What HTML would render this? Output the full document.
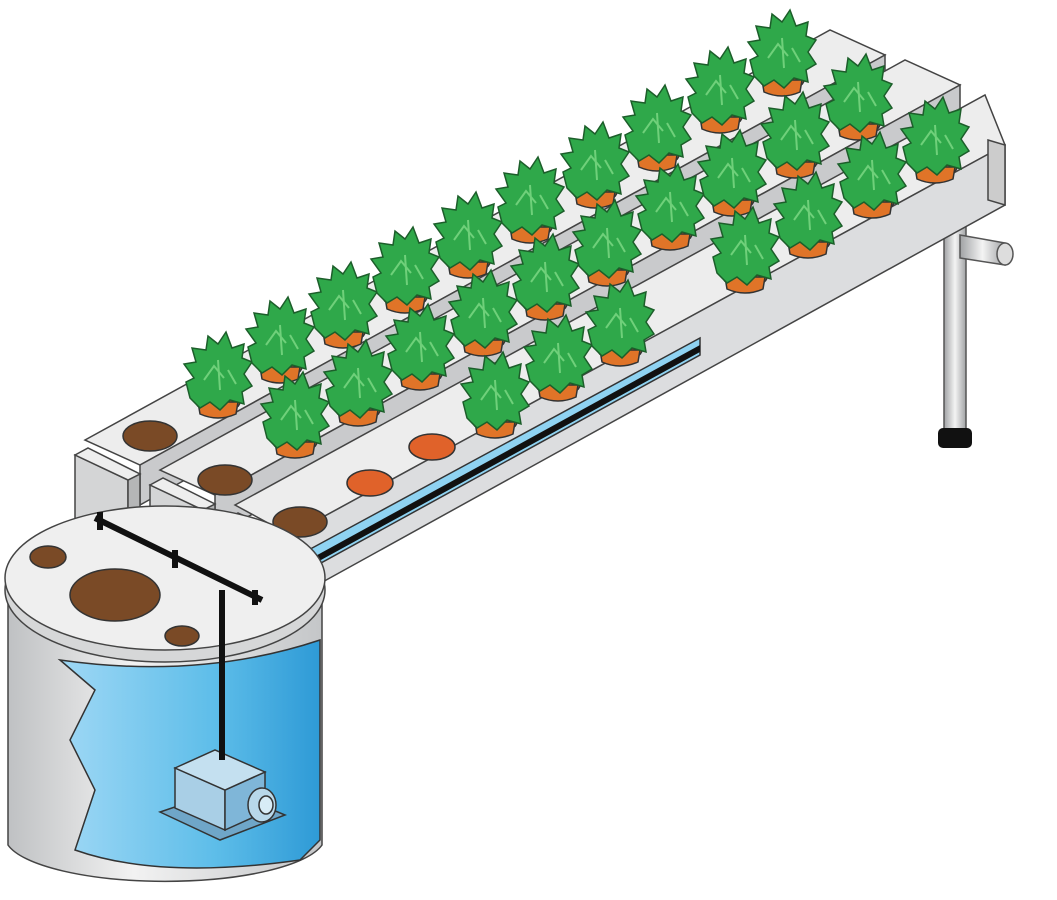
<!DOCTYPE html>
<html><head><meta charset="utf-8"><style>html,body{margin:0;padding:0;background:#fff}svg{display:block}</style></head>
<body>
<svg width="1057" height="900" viewBox="0 0 1057 900" xmlns="http://www.w3.org/2000/svg">
<defs>
<linearGradient id="cyl" x1="0" x2="1"><stop offset="0" stop-color="#bfc1c3"/><stop offset="0.4" stop-color="#f2f2f2"/><stop offset="1" stop-color="#c4c6c8"/></linearGradient>
<linearGradient id="water" x1="0" x2="1"><stop offset="0" stop-color="#9fd8f5"/><stop offset="0.6" stop-color="#5dbde9"/><stop offset="1" stop-color="#2e9ad6"/></linearGradient>
<linearGradient id="leg" x1="0" x2="1"><stop offset="0" stop-color="#a0a2a4"/><stop offset="0.5" stop-color="#f4f4f4"/><stop offset="1" stop-color="#a0a2a4"/></linearGradient>
<g id="plant">
<ellipse cx="0" cy="2" rx="22" ry="10" fill="#d9651f" stroke="#333" stroke-width="1.5"/>
<path d="M-20,2 L-18,14 Q0,22 18,14 L20,2 Z" fill="#e07428" stroke="#333" stroke-width="1.5"/>
<path d="M-28,-2 L-32,-18 L-24,-22 L-34,-36 L-22,-38 L-26,-52 L-12,-50 L-10,-64 L0,-56 L8,-68 L14,-52 L26,-56 L24,-42 L34,-38 L26,-26 L34,-14 L24,-8 L26,4 L12,0 L2,10 L-8,2 L-18,8 Z" fill="#2fa84a" stroke="#1c5e2a" stroke-width="1.5"/>
<path d="M-14,-20 L-4,-34 L6,-22 M0,-40 L2,-10 M10,-30 L18,-16" stroke="#6fd07a" stroke-width="2" fill="none"/>
</g>
</defs>

<!-- rear leg (behind) -->
<rect x="944" y="195" width="22" height="240" fill="url(#leg)" stroke="#555" stroke-width="1.5"/>
<rect x="938" y="428" width="34" height="20" rx="5" fill="#111"/>
<path d="M960,235 L1005,243 L1005,265 L960,258 Z" fill="url(#leg)" stroke="#555" stroke-width="1.5"/>
<ellipse cx="1005" cy="254" rx="8" ry="11" fill="#ddd" stroke="#555" stroke-width="1.5"/>

<!-- back channel -->
<polygon points="85,440 830,30 885,55 140,465" fill="#ededed" stroke="#444" stroke-width="1.5"/>
<polygon points="140,465 885,55 885,90 140,505" fill="#c9cacc" stroke="#444" stroke-width="1.5"/>
<polygon points="75,455 128,480 128,545 75,520" fill="#d4d5d6" stroke="#444" stroke-width="1.5"/>
<polygon points="128,480 140,474 140,538 128,545" fill="#b5b6b7" stroke="#444" stroke-width="1.5"/>
<polygon points="75,455 88,448 140,474 128,480" fill="#eee" stroke="#444" stroke-width="1.5"/>
<!-- middle channel -->
<polygon points="160,470 905,60 960,85 215,495" fill="#ededed" stroke="#444" stroke-width="1.5"/>
<polygon points="215,495 960,85 960,120 215,535" fill="#c9cacc" stroke="#444" stroke-width="1.5"/>
<polygon points="150,485 203,510 203,575 150,550" fill="#d4d5d6" stroke="#444" stroke-width="1.5"/>
<polygon points="203,510 215,504 215,568 203,575" fill="#b5b6b7" stroke="#444" stroke-width="1.5"/>
<polygon points="150,485 163,478 215,504 203,510" fill="#eee" stroke="#444" stroke-width="1.5"/>
<!-- front channel -->
<polygon points="235,505 985,95 1005,145 290,535" fill="#ededed" stroke="#444" stroke-width="1.5"/>
<polygon points="290,535 1005,145 1005,205 290,600" fill="#dcdddf" stroke="#444" stroke-width="1.5"/>
<polygon points="290,560 700,338 700,355 290,580" fill="#8fd3f2" stroke="#333" stroke-width="1.5"/>
<polygon points="290,570 700,345 700,352 290,577" fill="#111"/>
<polygon points="225,520 280,545 280,612 225,587" fill="#d4d5d6" stroke="#444" stroke-width="1.5"/>
<polygon points="280,545 292,538 292,605 280,612" fill="#b5b6b7" stroke="#444" stroke-width="1.5"/>
<polygon points="225,520 238,513 292,538 280,545" fill="#eee" stroke="#444" stroke-width="1.5"/>
<polygon points="988,140 1005,145 1005,205 988,200" fill="#ccc" stroke="#444" stroke-width="1.5"/>

<!-- holes -->
<ellipse cx="150" cy="436" rx="27" ry="15" fill="#7a4a26" stroke="#333" stroke-width="1.5"/>
<ellipse cx="225" cy="480" rx="27" ry="15" fill="#7a4a26" stroke="#333" stroke-width="1.5"/>
<ellipse cx="300" cy="522" rx="27" ry="15" fill="#7a4a26" stroke="#333" stroke-width="1.5"/>
<ellipse cx="370" cy="483" rx="23" ry="13" fill="#e0622a" stroke="#333" stroke-width="1.5"/>
<ellipse cx="432" cy="447" rx="23" ry="13" fill="#e0622a" stroke="#333" stroke-width="1.5"/>

<!-- back row plants -->
<use href="#plant" x="218" y="400"/><use href="#plant" x="280" y="365"/><use href="#plant" x="343" y="330"/>
<use href="#plant" x="405" y="295"/><use href="#plant" x="468" y="260"/><use href="#plant" x="530" y="225"/>
<use href="#plant" x="595" y="190"/><use href="#plant" x="657" y="153"/><use href="#plant" x="720" y="115"/>
<use href="#plant" x="782" y="78"/>
<!-- middle row -->
<use href="#plant" x="295" y="440"/><use href="#plant" x="358" y="408"/><use href="#plant" x="420" y="372"/>
<use href="#plant" x="545" y="302"/><use href="#plant" x="607" y="268"/>
<use href="#plant" x="670" y="232"/><use href="#plant" x="732" y="198"/><use href="#plant" x="795" y="160"/>
<use href="#plant" x="858" y="122"/>
<use href="#plant" x="483" y="338"/>
<!-- front row -->
<use href="#plant" x="495" y="420"/><use href="#plant" x="558" y="383"/><use href="#plant" x="620" y="348"/>
<use href="#plant" x="745" y="275"/><use href="#plant" x="808" y="240"/>
<use href="#plant" x="872" y="200"/><use href="#plant" x="935" y="165"/>

<!-- tank -->
<path d="M8,595 L8,845 A160,45 0 0 0 322,845 L322,595 Z" fill="url(#cyl)" stroke="#444" stroke-width="1.5"/>
<path d="M60,660 L95,690 L70,740 L95,790 L75,850 Q160,880 300,860 L320,840 L320,640 Q200,680 60,660 Z" fill="url(#water)" stroke="#333" stroke-width="1.5"/>
<ellipse cx="165" cy="590" rx="160" ry="72" fill="#d6d7d8" stroke="#444" stroke-width="1.5"/>
<ellipse cx="165" cy="578" rx="160" ry="72" fill="#efefef" stroke="#444" stroke-width="1.5"/>
<ellipse cx="115" cy="595" rx="45" ry="26" fill="#7a4a26" stroke="#333" stroke-width="1.5"/>
<ellipse cx="48" cy="557" rx="18" ry="11" fill="#7a4a26" stroke="#333" stroke-width="1.5"/>
<ellipse cx="182" cy="636" rx="17" ry="10" fill="#7a4a26" stroke="#333" stroke-width="1.5"/>

<!-- pump -->
<polygon points="160,812 220,840 285,815 225,790" fill="#6fa6c8" stroke="#333" stroke-width="1.5"/>
<polygon points="175,768 225,790 225,830 175,808" fill="#a9cfe6" stroke="#333" stroke-width="1.5"/>
<polygon points="225,790 265,772 265,812 225,830" fill="#7fb6d8" stroke="#333" stroke-width="1.5"/>
<polygon points="175,768 215,750 265,772 225,790" fill="#c4e0f0" stroke="#333" stroke-width="1.5"/>
<ellipse cx="262" cy="805" rx="14" ry="17" fill="#b8d8ea" stroke="#333" stroke-width="1.5"/>
<ellipse cx="266" cy="805" rx="7" ry="9" fill="#d8ecf6" stroke="#333" stroke-width="1.5"/>

<!-- pipes -->
<g stroke="#111" stroke-width="6" fill="none">
<path d="M222,760 L222,590"/>
<path d="M95,518 L262,600"/>
<path d="M100,512 L100,530 M175,550 L175,568 M255,590 L255,605"/>
</g>
</svg>
</body></html>
